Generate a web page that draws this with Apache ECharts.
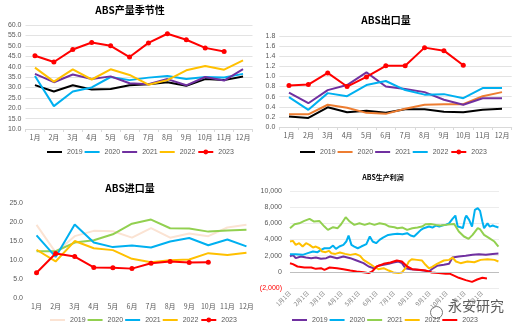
<!DOCTYPE html>
<html><head><meta charset="utf-8">
<script src="https://cdn.jsdelivr.net/npm/echarts@6/dist/echarts.min.js"></script>
<style>html,body{margin:0;padding:0;background:#fff}#c{width:521px;height:330px}</style>
</head><body><div id="c"></div>
<script>
const months = ['1月','2月','3月','4月','5月','6月','7月','8月','9月','10月','11月','12月'];
const years = ['2019','2020','2021','2022','2023'];

// ABS产量季节性 (万吨)
const output2019 = [31.1, 28.0, 31.0, 29.0, 29.2, 31.0, 31.5, 32.5, 30.8, 34.0, 33.5, 35.2];
const output2020 = [35.5, 21.0, 28.0, 30.0, 35.0, 33.5, 34.7, 35.5, 34.0, 35.0, 34.8, 36.5];
const output2021 = [36.5, 32.5, 36.2, 34.0, 35.3, 32.0, 31.5, 34.0, 31.0, 35.0, 33.3, 38.8];
const output2022 = [39.5, 32.8, 38.7, 33.8, 38.7, 36.0, 31.3, 33.5, 38.2, 40.3, 38.5, 43.0];
const output2023 = [45.2, 42.2, 48.2, 51.6, 50.0, 44.6, 51.4, 55.8, 52.9, 49.0, 47.3];

// ABS出口量 (万吨)
const export2019 = [0.21, 0.18, 0.39, 0.29, 0.32, 0.28, 0.35, 0.35, 0.30, 0.29, 0.34, 0.36];
const export2020 = [0.25, 0.25, 0.44, 0.38, 0.28, 0.26, 0.36, 0.44, 0.45, 0.45, 0.61, 0.69];
const export2021 = [0.68, 0.47, 0.73, 0.83, 1.08, 0.80, 0.75, 0.69, 0.54, 0.44, 0.57, 0.57];
const export2022 = [0.59, 0.34, 0.67, 0.61, 0.83, 0.91, 0.73, 0.64, 0.65, 0.57, 0.77, 0.77];
const export2023 = [0.82, 0.84, 1.07, 0.80, 0.99, 1.21, 1.21, 1.57, 1.51, 1.22];

// ABS进口量 (万吨)
const import2019 = [19.3, 12.0, 16.3, 17.7, 17.6, 15.9, 18.4, 15.9, 17.0, 16.3, 18.6, 19.3];
const import2020 = [12.3, 12.3, 14.6, 15.2, 16.8, 19.6, 20.7, 18.4, 18.3, 17.5, 17.8, 18.0];
const import2021 = [16.5, 10.8, 19.4, 14.6, 13.4, 13.8, 13.3, 14.9, 15.8, 13.9, 15.4, 13.6];
const import2022 = [12.7, 9.6, 15.0, 13.1, 12.6, 10.3, 9.4, 9.9, 10.1, 11.8, 11.3, 11.9];
const import2023 = [6.6, 11.7, 10.9, 8.0, 7.9, 7.7, 9.1, 9.6, 9.3, 9.4];

// ABS生产利润 (元/吨): [day of year, value]
const profit2019 = [[0,1900],[5,2100],[10,1690],[19,1900],[28,1770],[37,1690],[45,1770],[54,1610],[63,1690],[70,1900],[82,1690],[93,1900],[105,1690],[116,1400],[128,1070],[137,660],[146,450],[154,740],[163,870],[172,990],[180,1150],[189,1280],[195,1070],[201,450],[210,330],[221,250],[233,160],[242,40],[247,330],[256,740],[268,870],[277,990],[283,1770],[294,1900],[306,1980],[318,2100],[329,2180],[341,2100],[353,2220],[363,2270]];
const profit2020 = [[0,2180],[10,2180],[22,2100],[31,2310],[40,2510],[48,2430],[54,2720],[60,2920],[69,2920],[75,3250],[80,2840],[86,3130],[93,3340],[98,3750],[102,4490],[107,3340],[112,3130],[118,2920],[124,3130],[133,3420],[139,4370],[144,3750],[150,3540],[156,3950],[162,4240],[171,4570],[179,4660],[187,4700],[196,4660],[204,4780],[210,4490],[216,4370],[222,4780],[228,5190],[233,5400],[242,5600],[248,5480],[254,5730],[260,5600],[265,5730],[271,5810],[277,6000],[283,6550],[288,6960],[292,5600],[297,5520],[301,5400],[305,6630],[307,6960],[312,6430],[317,5600],[319,5400],[322,7660],[327,7870],[331,7540],[335,6220],[338,5400],[344,6000],[348,5600],[353,5730],[358,5600],[363,5480]];
const profit2021 = [[0,5400],[8,5890],[16,6000],[25,6300],[34,6550],[42,6220],[51,6300],[60,5600],[66,5190],[75,5520],[83,5400],[89,5890],[97,6760],[104,6220],[112,5810],[121,6000],[130,5810],[139,6000],[147,5810],[156,6000],[165,5890],[173,5600],[182,5520],[187,5400],[196,5480],[204,5190],[213,5400],[222,5480],[230,5600],[236,5890],[245,5930],[254,5810],[262,5730],[271,5810],[280,5890],[286,5930],[294,4990],[303,4370],[311,4080],[318,4570],[327,5400],[331,5270],[338,4570],[347,4160],[356,3750],[363,3130]];
const profit2022 = [[0,3750],[5,3830],[10,3340],[16,3540],[22,3130],[28,3540],[34,3340],[40,3010],[45,3130],[51,2920],[56,2510],[62,2430],[68,2600],[72,2300],[79,2220],[87,2390],[96,2220],[105,2100],[114,2220],[122,1980],[128,1480],[137,1070],[146,660],[154,330],[163,450],[172,160],[180,-80],[189,-160],[195,-80],[201,450],[207,1280],[212,1560],[221,1480],[230,1400],[236,870],[242,450],[247,580],[256,990],[268,1400],[277,1480],[283,1770],[289,1280],[297,1070],[309,1280],[321,1190],[332,1480],[344,1570],[356,1480],[363,1280]];
const profit2023 = [[0,1070],[5,950],[13,660],[25,540],[37,540],[45,370],[54,450],[60,250],[69,540],[82,450],[93,330],[105,160],[116,40],[128,-40],[137,-160],[143,40],[151,660],[163,990],[175,1150],[186,1400],[195,1280],[204,660],[213,330],[224,250],[236,160],[247,-80],[259,-160],[271,-250],[279,-250],[282,-410],[294,-740],[306,-1030],[317,-1240],[326,-950],[335,-740],[343,-830]];

// daily labels for the profit chart
const monthDays = [31,28,31,30,31,30,31,31,30,31,30,31];
const dayLabels = [];
monthDays.forEach((n, m) => { for (let d = 1; d <= n; d++) dayLabels.push((m + 1) + '月' + d + '日'); });

const C = { black:'#000000', cyan:'#00B0F0', purple:'#7030A0', yellow:'#FFC000', red:'#FF0000', orange:'#ED7D31', green:'#92D050', peach:'#FBE3D3' };
const FONT = '"Noto Sans CJK SC", "Liberation Sans", sans-serif';
const labelGray = '#595959';
const LINE_ICON = 'path://M0,0H15V2H0Z';

function line(panel, year, data, color, idx, marker) {
  return {
    type: 'line', name: panel + ' ' + year, data: data,
    xAxisIndex: idx, yAxisIndex: idx,
    symbol: marker ? 'circle' : 'none', symbolSize: 5,
    lineStyle: { color: color, width: 2 }, itemStyle: { color: color },
    animation: false, z: marker ? 5 : 3
  };
}

const panels = [
  { key:'产量', series:[output2019,output2020,output2021,output2022,output2023], colors:[C.black,C.cyan,C.purple,C.yellow,C.red], marked: true },
  { key:'出口', series:[export2019,export2020,export2021,export2022,export2023], colors:[C.black,C.orange,C.purple,C.cyan,C.red], marked: true },
  { key:'进口', series:[import2019,import2020,import2021,import2022,import2023], colors:[C.peach,C.green,C.cyan,C.yellow,C.red], marked: true },
  { key:'利润', series:[profit2019,profit2020,profit2021,profit2022,profit2023], colors:[C.purple,C.cyan,C.green,C.yellow,C.red], marked: false }
];

const series = [];
panels.forEach((p, i) => {
  p.series.forEach((d, k) => {
    series.push(line(p.key, years[k], d, p.colors[k], i, p.marked && k === 4));
  });
});
// zero baseline of the profit chart
series[19].markLine = { silent: true, symbol: 'none', animation: false, label: { show: false },
  lineStyle: { color: '#bfbfbf', type: 'solid', width: 1 }, data: [{ yAxis: 0 }] };

const grids = [
  { left: 25.5, right: 268.5, top: 25, bottom: 201 },
  { left: 279.3, right: 9.3, top: 36, bottom: 203 },
  { left: 27, right: 265, top: 203.3, bottom: 32.3 },
  { left: 290, right: 22, top: 191, bottom: 42 }
];

const catAxis = (idx, showLine) => ({
  type: 'category', gridIndex: idx, data: months, boundaryGap: true,
  axisLine: { show: showLine, lineStyle: { color: '#d9d9d9' } },
  axisTick: { show: showLine, length: 3, lineStyle: { color: '#d9d9d9' } },
  axisLabel: { fontSize: 7, color: labelGray, margin: 5, fontFamily: FONT, interval: 0 },
  splitLine: { show: false }
});

const xAxes = [
  catAxis(0, true), catAxis(1, true), catAxis(2, false),
  { type: 'category', gridIndex: 3, data: dayLabels, boundaryGap: false,
    axisLine: { show: false }, axisTick: { show: false },
    axisLabel: { fontSize: 6, color: '#7f7f7f', rotate: 45, margin: 4, fontFamily: FONT,
      interval: (i, v) => v.endsWith('月1日') },
    splitLine: { show: false } }
];

const valAxis = (idx, min, max, interval, fmt, showSplit) => ({
  type: 'value', gridIndex: idx, min: min, max: max, interval: interval,
  axisLine: { show: false }, axisTick: { show: false },
  axisLabel: { fontSize: 7, color: labelGray, margin: 4, fontFamily: '"Liberation Sans", sans-serif', formatter: fmt },
  splitLine: { show: showSplit, lineStyle: { color: '#e3e3e3', width: 1 } }
});

const yAxes = [
  valAxis(0, 10, 60, 5, v => v.toFixed(1), true),
  valAxis(1, 0, 1.8, 0.2, v => v.toFixed(1), true),
  valAxis(2, 0, 25, 5, v => v.toFixed(1), false),
  valAxis(3, -2000, 10000, 2000, v => v < 0 ? '(' + Math.abs(v).toLocaleString('en-US') + ')' : v.toLocaleString('en-US'), true)
];
yAxes[3].axisLabel.color = v => (Number(v) < 0 ? '#FF0000' : labelGray);
yAxes[3].axisLabel.margin = 8;
yAxes[3].splitLine.lineStyle.color = '#ececec';

const titleStyle = (size) => ({ fontSize: size, fontWeight: 'bold', color: '#000', fontFamily: FONT });
const titles = [
  { text: 'ABS产量季节性', left: 130, top: 5, padding: 0, textAlign: 'center', textStyle: titleStyle(10) },
  { text: 'ABS出口量', left: 386, top: 15, padding: 0, textAlign: 'center', textStyle: titleStyle(10) },
  { text: 'ABS进口量', left: 130, top: 183, padding: 0, textAlign: 'center', textStyle: titleStyle(10) },
  { text: 'ABS生产利润', left: 383, top: 174, padding: 0, textAlign: 'center', textStyle: titleStyle(7) }
];

const legendPos = [ { left: 47, top: 148.5 }, { left: 300, top: 148.5 }, { left: 50, top: 316.5 }, { left: 292, top: 316.5 } ];
const legends = panels.map((p, i) => ({
  data: years.map((y, k) => (p.marked && k === 4)
    ? { name: p.key + ' ' + y }
    : { name: p.key + ' ' + y, icon: LINE_ICON }),
  left: legendPos[i].left, top: legendPos[i].top, padding: 0,
  itemWidth: 15, itemHeight: 6, itemGap: 2, selectedMode: false,
  textStyle: { fontSize: 7, color: labelGray, fontFamily: '"Liberation Sans", sans-serif' },
  formatter: n => n.slice(-4)
}));

const chart = echarts.init(document.getElementById('c'), null, { renderer: 'canvas' });
chart.setOption({
  backgroundColor: '#ffffff',
  animation: false,
  title: titles,
  legend: legends,
  grid: grids,
  xAxis: xAxes,
  yAxis: yAxes,
  series: series,
  graphic: [
    { type: 'circle', left: 428, top: 304, shape: { r: 6 }, style: { fill: 'none', stroke: '#777', lineWidth: 1 } },
    { type: 'text', left: 448, top: 299, style: { text: '永安研究', font: '14px "Noto Sans CJK SC"', fill: '#333', opacity: 0.8 } }
  ]
});
</script>
</body></html>
